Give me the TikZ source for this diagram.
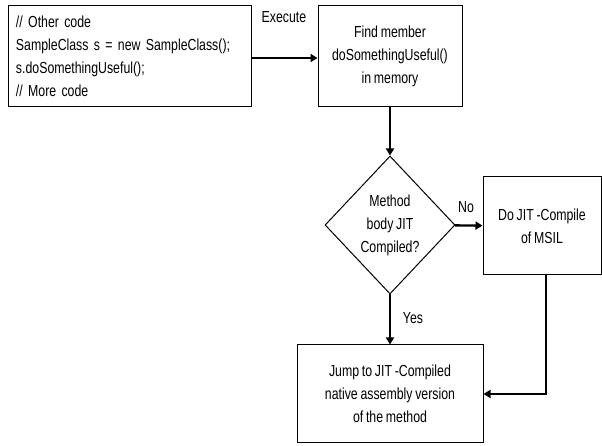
\documentclass[tikz,border=0pt]{standalone}
\usepackage{fontspec}
\setmainfont[FakeStretch=0.77, WordSpace=0.8]{Liberation Sans}
\usetikzlibrary{shapes.geometric,arrows.meta}

\begin{document}
\begin{tikzpicture}[x=1pt, y=1pt,
        box/.style={draw, line width=1pt, inner sep=0pt, align=center,
                font=\fontsize{16}{23}\selectfont},
        test/.style={draw, diamond, line width=1pt, inner sep=0pt, align=center,
                minimum width=130pt, minimum height=138pt,
                font=\fontsize{16}{23}\selectfont},
        flow/.style={line width=2.4pt, -{Triangle[length=7pt, width=8pt]}},
        tag/.style={font=\fontsize{16}{18}\selectfont}]
                \useasboundingbox (0,0) rectangle (602,446);
                % boxes
                \node[box, minimum width=243pt, minimum height=101pt, align=left,
                        text width=227pt] (code) at (129.5,389.5)
                        {// Other code\\SampleClass s = new SampleClass();\\s.doSomethingUseful();\\// More code};
                \node[box, minimum width=144pt, minimum height=101pt] (find) at (390,389.5)
                        {Find member\\doSomethingUseful()\\in memory};
                \node[test] (check) at (390,221) {Method\\body JIT\\Compiled?};
                \node[box, minimum width=118pt, minimum height=98pt] (compile) at (542,220)
                        {Do JIT -Compile\\of MSIL};
                \node[box, minimum width=186pt, minimum height=98pt] (jump) at (390,52)
                        {Jump to JIT -Compiled\\native assembly version\\of the method};
                % connectors
                \draw[flow] (code.east |- 0,388) -- (find.west |- 0,388);
                \draw[flow] (find) -- (check);
                \draw[flow] (check) -- (compile);
                \draw[flow] (check) -- (jump);
                \draw[flow] ([xshift=4pt]compile.south) |- (jump.east);
                % labels
                \node[tag] (exec) at (284,429) {Execute};
                \node[tag] (no) at (466,239) {No};
                \node[tag] (yes) at (413,128) {Yes};
\end{tikzpicture}
\end{document}
